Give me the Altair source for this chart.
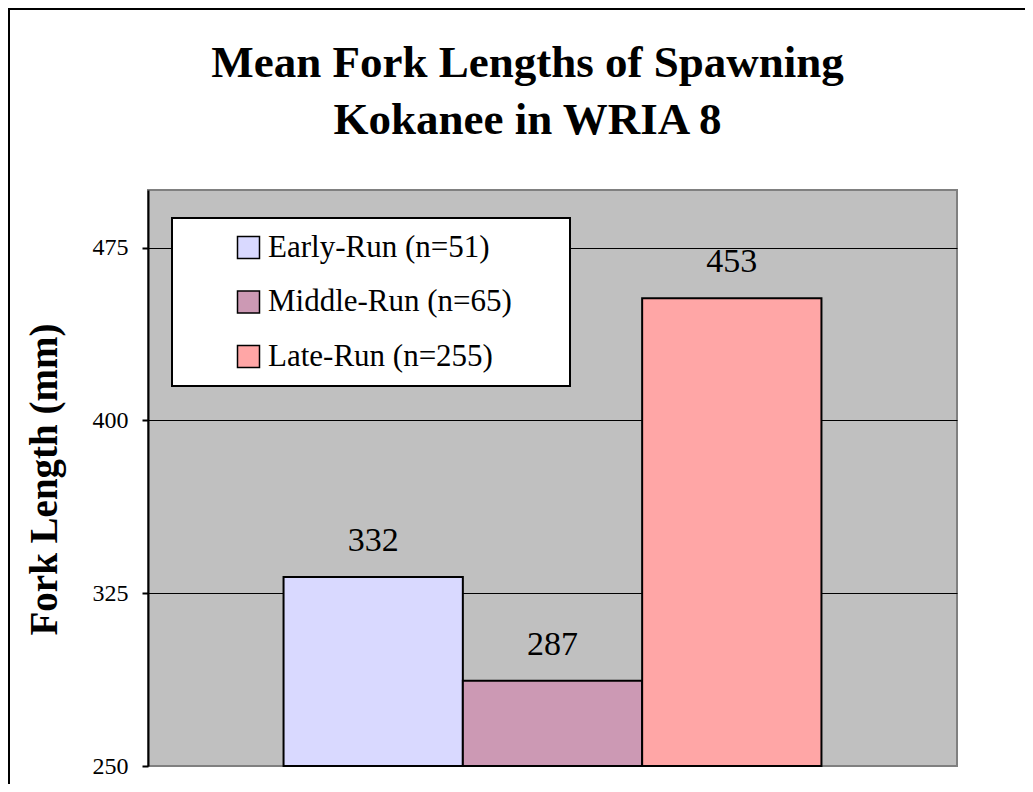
import altair as alt
import pandas as pd

# ---- data ----
categories = ["Early-Run (n=51)", "Middle-Run (n=65)", "Late-Run (n=255)"]
values = [332, 287, 453]
colors = ["#D9D9FF", "#CC99B4", "#FFA6A6"]
y_ticks = [250, 325, 400, 475]
y_domain = [250, 500]
baseline_value = 250
title_lines = ["Mean Fork Lengths of Spawning", "Kokanee in WRIA 8"]
y_title = "Fork Length (mm)"

df = pd.DataFrame({"run": categories, "length": values,
                   "base": [baseline_value] * len(values)})

FONT = "Liberation Serif"

x_enc = alt.X("run:N", sort=categories, axis=None,
              scale=alt.Scale(paddingInner=0, paddingOuter=0.756))
y_scale = alt.Scale(domain=y_domain, zero=False, nice=False)

legend = alt.Legend(
    title="\u00a0", titleOrient="right", titleFontSize=12, titlePadding=44,
    orient="none", legendX=24, legendY=28, direction="vertical",
    symbolType="square", symbolSize=484, symbolStrokeColor="black",
    symbolStrokeWidth=1.5, labelFont=FONT, labelFontSize=31, labelColor="black",
    labelLimit=1000, fillColor="white", strokeColor="black", padding=14,
    rowPadding=22.5, symbolOffset=47, labelOffset=4,
)

y_axis = alt.Axis(
    values=y_ticks, title=y_title, titleFont=FONT, titleFontSize=39,
    titleFontWeight="bold", titleColor="black", titleAngle=270,
    titleX=-92, titleY=289, titleAlign="center", titleBaseline="alphabetic",
    labelFont=FONT, labelFontSize=24, labelColor="black", labelPadding=14,
    tickSize=6, tickWidth=2, tickColor="black", domainColor="black",
    domainWidth=2, grid=True,
    gridColor=alt.condition("datum.value == 250", alt.value("#808080"), alt.value("black")),
    gridWidth=1, gridOpacity=1,
)

bars = alt.Chart(df).mark_bar(stroke="black", strokeWidth=2).encode(
    x=x_enc,
    y=alt.Y("length:Q", scale=y_scale, axis=y_axis),
    y2="base:Q",
    fill=alt.Fill("run:N", sort=categories,
                  scale=alt.Scale(domain=categories, range=colors), legend=legend),
)

labels = alt.Chart(df).mark_text(
    font=FONT, fontSize=34, baseline="alphabetic", dy=-26, color="black"
).encode(
    x=x_enc,
    y=alt.Y("length:Q", scale=y_scale),
    text="length:Q",
)

frame_df = pd.DataFrame({"k": [0]})
frame_left = alt.Chart(frame_df).mark_rule(color="black", strokeWidth=2).encode(
    x=alt.value(-139), y=alt.value(-182), y2=alt.value(594))
frame_top = alt.Chart(frame_df).mark_rule(color="black", strokeWidth=2).encode(
    x=alt.value(-140), x2=alt.value(877), y=alt.value(-181))

chart = alt.layer(bars, labels, frame_left, frame_top).properties(
    width=809, height=576,
    background="white",
    autosize=alt.AutoSizeParams(type="none"),
    padding={"left": 140, "top": 182, "right": 68, "bottom": 18},
    title=alt.TitleParams(
        text=title_lines, font=FONT, fontSize=45, fontWeight="bold",
        color="black", anchor="middle", dx=-25, lineHeight=56.5,
        baseline="alphabetic", offset=-171.5,
    ),
).configure_view(
    fill="#C0C0C0", stroke="#808080", strokeWidth=2
).configure_legend(
    strokeWidth=2
)

chart.save("out.html", embed_options={"renderer": "svg", "actions": False})
